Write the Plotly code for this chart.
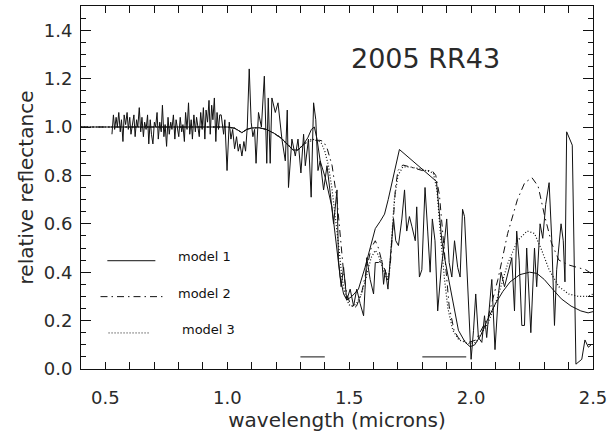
import plotly.graph_objects as go

# ---------------- data ----------------
spec_vis_x = [0.527,0.533,0.538,0.544,0.549,0.555,0.561,0.566,0.572,0.577,0.583,0.589,0.594,0.600,0.605,0.611,0.617,0.622,0.628,0.633,
              0.639,0.645,0.650,0.656,0.661,0.667,0.673,0.678,0.684,0.689,0.695,0.701,0.706,0.712,0.717,0.723,0.729,0.734,0.740,0.745,
              0.751,0.757,0.762,0.768,0.773,0.779,0.785,0.790,0.796,0.801,0.807,0.813,0.818,0.824,0.829,0.835,0.841,0.846,0.852,0.857,
              0.863,0.869,0.874,0.880,0.885,0.891,0.897,0.902,0.908,0.913,0.919,0.925,0.930,0.936,0.941,0.947,0.953,0.958,0.964,0.969]
spec_vis_y = [0.97,1.05,0.99,1.04,1.00,1.06,0.98,1.03,0.94,1.05,1.01,1.06,0.99,1.04,0.97,1.02,1.05,0.96,1.03,1.00,
              1.08,0.98,1.04,0.96,1.02,0.99,1.05,0.93,1.03,0.97,0.93,1.02,1.00,1.06,0.95,1.02,0.98,1.09,0.96,1.01,
              0.92,1.04,0.97,1.02,0.99,1.05,0.95,1.03,1.00,0.96,1.04,0.98,1.01,0.94,1.06,0.99,1.10,0.97,1.03,0.95,
              1.05,0.98,1.04,1.00,0.96,1.06,0.99,1.08,0.95,1.07,1.02,1.11,0.97,1.09,1.03,1.12,0.94,1.06,0.99,1.05]

spec_nir_x = [0.975,0.985,0.990,0.999,1.008,1.015,1.022,1.030,1.038,1.045,1.052,1.060,1.068,1.075,1.082,1.090,1.098,1.105,1.112,1.118,
              1.128,1.140,1.152,1.162,1.168,1.176,1.183,1.197,1.208,1.224,1.238,1.246,1.251,1.265,1.279,1.290,1.302,1.313,1.320,1.333,
              1.344,1.354,1.363,1.372,1.381,1.395,1.409,1.422,1.436,1.450,1.456,1.467,1.477,1.490,1.504,1.518,1.531,1.545,1.559,1.565,
              1.572,1.586,1.600,1.607,1.620,1.634,1.641,1.648,1.659,1.668,1.682,1.691,1.702,1.716,1.727,1.736,1.747,1.757,1.771,1.777,
              1.788,1.798,1.811,1.822,1.832,1.841,1.852,1.863,1.877,1.891,1.900,1.910,1.921,1.932,1.945,1.955,1.965,1.973,1.982,1.992,
              2.000,2.010,2.019,2.030,2.044,2.055,2.064,2.085,2.098,2.112,2.123,2.137,2.153,2.167,2.178,2.187,2.197,2.208,2.219,2.228,
              2.245,2.260,2.269,2.283,2.294,2.306,2.320,2.331,2.342,2.351,2.369,2.378,2.385,2.392,2.415,2.430,2.454,2.467,2.481,2.492]
spec_nir_y = [1.05,0.97,1.03,0.82,1.02,0.95,0.99,0.91,0.96,0.90,0.93,0.88,0.94,0.90,1.00,1.24,1.02,0.96,0.99,0.85,
              1.06,1.00,1.21,0.85,1.12,0.85,1.12,1.06,1.10,0.95,0.86,1.07,0.75,0.95,0.88,0.95,0.81,0.97,0.84,0.95,
              0.71,1.10,1.03,0.82,0.86,0.74,0.84,0.73,0.60,0.74,0.45,0.34,0.42,0.285,0.33,0.26,0.33,0.27,0.22,0.33,
              0.46,0.37,0.31,0.44,0.44,0.45,0.35,0.41,0.33,0.45,0.62,0.53,0.51,0.62,0.74,0.57,0.63,0.59,0.53,0.67,
              0.38,0.41,0.75,0.57,0.40,0.62,0.53,0.24,0.41,0.53,0.62,0.44,0.38,0.53,0.42,0.38,0.66,0.63,0.41,0.22,
              0.04,0.16,0.31,0.13,0.11,0.22,0.13,0.37,0.08,0.31,0.40,0.34,0.41,0.46,0.24,0.57,0.45,0.18,0.18,0.50,
              0.15,0.50,0.34,0.60,0.54,0.68,0.77,0.53,0.18,0.41,0.60,0.53,0.36,0.98,0.925,0.02,0.04,0.12,0.09,0.10]

m1_x = [0.40,0.60,0.80,0.95,1.00,1.03,1.06,1.08,1.10,1.13,1.16,1.19,1.22,1.25,1.27,1.29,1.31,1.33,1.345,1.357,
        1.368,1.381,1.402,1.429,1.45,1.463,1.477,1.49,1.511,1.538,1.565,1.59,1.607,1.627,1.645,1.66,1.675,1.69,1.706,1.858,
        1.868,1.88,1.893,1.907,1.928,1.948,1.976,1.996,2.015,2.04,2.07,2.10,2.13,2.16,2.20,2.24,2.27,2.30,2.33,2.37,
        2.41,2.45,2.48,2.50]
m1_y = [1.00,1.00,1.00,1.00,1.00,0.995,0.977,0.99,0.996,0.997,0.99,0.975,0.955,0.925,0.905,0.905,0.925,0.955,0.99,1.00,
        0.95,0.86,0.79,0.67,0.50,0.38,0.31,0.285,0.30,0.33,0.42,0.52,0.58,0.61,0.64,0.70,0.77,0.83,0.907,0.775,
        0.66,0.53,0.45,0.38,0.26,0.16,0.11,0.092,0.10,0.14,0.21,0.27,0.32,0.36,0.39,0.40,0.395,0.37,0.335,0.29,
        0.26,0.24,0.232,0.237]

m2_x = [0.40,0.60,0.80,0.95,1.00,1.03,1.06,1.08,1.10,1.13,1.16,1.19,1.22,1.25,1.27,1.29,1.31,1.33,1.36,1.38,
        1.395,1.41,1.43,1.45,1.463,1.477,1.49,1.504,1.518,1.53,1.55,1.57,1.59,1.607,1.62,1.635,1.65,1.66,1.67,1.68,
        1.69,1.70,1.72,1.75,1.80,1.84,1.855,1.87,1.88,1.895,1.91,1.93,1.95,1.99,2.02,2.07,2.11,2.15,2.19,2.22,
        2.25,2.275,2.30,2.33,2.36,2.40,2.44,2.47,2.50]
m2_y = [1.00,1.00,1.00,1.00,1.00,0.995,0.977,0.99,0.996,0.997,0.99,0.975,0.955,0.925,0.905,0.905,0.925,0.94,0.945,0.945,
        0.94,0.91,0.84,0.70,0.57,0.40,0.31,0.27,0.25,0.26,0.31,0.40,0.50,0.53,0.50,0.44,0.40,0.36,0.45,0.60,
        0.75,0.82,0.843,0.835,0.82,0.82,0.80,0.72,0.60,0.41,0.26,0.16,0.125,0.11,0.12,0.215,0.37,0.56,0.70,0.77,
        0.79,0.755,0.64,0.52,0.45,0.43,0.42,0.41,0.39]

m3_x = [0.40,0.60,0.80,0.95,1.00,1.03,1.06,1.08,1.10,1.13,1.16,1.19,1.22,1.25,1.27,1.29,1.31,1.33,1.345,1.37,
        1.385,1.40,1.415,1.43,1.445,1.46,1.47,1.485,1.50,1.515,1.53,1.55,1.57,1.59,1.607,1.62,1.64,1.655,1.665,1.675,
        1.685,1.70,1.72,1.75,1.80,1.845,1.86,1.875,1.89,1.905,1.925,1.95,1.99,2.02,2.07,2.11,2.15,2.19,2.23,2.26,
        2.29,2.32,2.36,2.40,2.44,2.48,2.50]
m3_y = [1.00,1.00,1.00,1.00,1.00,0.995,0.977,0.99,0.996,0.997,0.99,0.975,0.955,0.925,0.905,0.905,0.925,0.94,0.95,0.945,
        0.935,0.90,0.84,0.74,0.62,0.48,0.38,0.30,0.265,0.26,0.27,0.31,0.38,0.46,0.49,0.47,0.41,0.37,0.40,0.55,
        0.70,0.80,0.835,0.835,0.825,0.81,0.74,0.55,0.38,0.25,0.16,0.12,0.105,0.11,0.19,0.30,0.435,0.53,0.57,0.56,
        0.49,0.41,0.34,0.31,0.30,0.30,0.31]

band_starts = [1.30, 1.80]
band_ends = [1.40, 1.98]
band_level = 0.05

legend_names = ["model 1", "model 2", "model 3"]

# ---------------- figure ----------------
BLACK = "#111111"
DASHDOT = "7px,4px,1.5px,4px"
DOT = "1px,2px"

fig = go.Figure()
fig.add_trace(go.Scatter(x=spec_vis_x + spec_nir_x, y=spec_vis_y + spec_nir_y, mode="lines",
                         line=dict(color=BLACK, width=1)))
fig.add_trace(go.Scatter(x=m1_x, y=m1_y, mode="lines", line=dict(color=BLACK, width=1)))
fig.add_trace(go.Scatter(x=m2_x, y=m2_y, mode="lines", line=dict(color=BLACK, width=1, dash=DASHDOT)))
fig.add_trace(go.Scatter(x=m3_x, y=m3_y, mode="lines", line=dict(color=BLACK, width=1.2, dash=DOT)))

for s, e in zip(band_starts, band_ends):
    fig.add_trace(go.Scatter(x=[s, e], y=[band_level, band_level], mode="lines",
                             line=dict(color=BLACK, width=1)))

# legend (hand drawn, IDL style)
leg = [
    (0.508, 0.705, 0.4475, 0.908, 0.463, "solid"),
    (0.480, 0.734, 0.299, 0.906, 0.314, DASHDOT),
    (0.513, 0.684, 0.149, 0.924, 0.165, DOT),
]
for (x0, x1, yl, xt, yt, dash), name in zip(leg, legend_names):
    fig.add_shape(type="line", xref="x", yref="y", x0=x0, x1=x1, y0=yl, y1=yl,
                  line=dict(color=BLACK, width=1, dash=dash))
    fig.add_annotation(x=xt, y=yt, xref="x", yref="y", text=name, showarrow=False,
                       font=dict(family="DejaVu Sans", size=13, color=BLACK))

fig.add_annotation(x=1.815, y=1.285, xref="x", yref="y", text="2005 RR43", showarrow=False,
                   font=dict(family="DejaVu Sans", size=27, color="#2a2a2a"))

axis_common = dict(showline=True, linecolor=BLACK, linewidth=1, mirror="ticks",
                   ticks="inside", tickcolor=BLACK, showgrid=False, zeroline=False,
                   tickfont=dict(family="DejaVu Sans", size=18, color="#2a2a2a"),
                   title_font=dict(family="DejaVu Sans", size=20, color="#2a2a2a"))

fig.update_xaxes(range=[0.4, 2.5], tickvals=[0.5, 1.0, 1.5, 2.0, 2.5],
                 ticktext=["0.5", "1.0", "1.5", "2.0", "2.5"], ticklen=7,
                 minor=dict(dtick=0.1, ticklen=7, ticks="inside", tickcolor=BLACK, showgrid=False),
                 title_text="wavelength (microns)", title_standoff=6, ticklabelstandoff=12,
                 **axis_common)
fig.update_yaxes(range=[0, 1.5], tickvals=[0.0, 0.2, 0.4, 0.6, 0.8, 1.0, 1.2, 1.4],
                 ticktext=["0.0", "0.2", "0.4", "0.6", "0.8", "1.0", "1.2", "1.4"], ticklen=10,
                 minor=dict(dtick=0.05, ticklen=5, ticks="inside", tickcolor=BLACK, showgrid=False),
                 title_text="relative reflectance", title_standoff=4, ticklabelstandoff=4,
                 **axis_common)

fig.update_layout(width=609, height=434, showlegend=False,
                  margin=dict(l=81, r=16, t=6, b=65, autoexpand=False),
                  paper_bgcolor="white", plot_bgcolor="white")

fig.write_html("out.html", config={"displayModeBar": False},
               post_script="document.body.style.margin='0';")
